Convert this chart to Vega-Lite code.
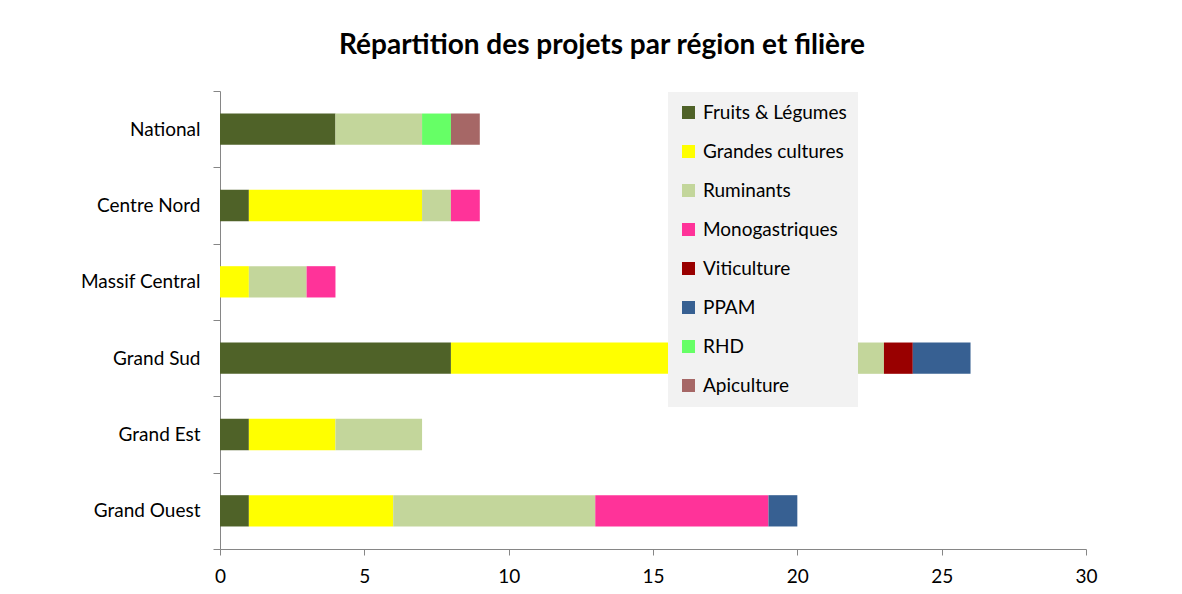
{
  "$schema": "https://vega.github.io/schema/vega-lite/v6.json",
  "width": 866,
  "height": 458,
  "padding": {"left": 80, "top": 32, "right": 20, "bottom": 5},
  "background": "white",
  "config": {"view": {"stroke": null}, "font": "Lato"},
  "title": {"text": "Répartition des projets par région et filière", "fontSize": 28, "fontWeight": "bold", "font": "Lato", "color": "#000000", "anchor": "middle", "frame": "group", "dx": -51, "offset": 22},
  "data": {"values": [
    {"region": "National", "filiere": "Fruits & Légumes", "n": 4},
    {"region": "National", "filiere": "Ruminants", "n": 3},
    {"region": "National", "filiere": "RHD", "n": 1},
    {"region": "National", "filiere": "Apiculture", "n": 1},
    {"region": "Centre Nord", "filiere": "Fruits & Légumes", "n": 1},
    {"region": "Centre Nord", "filiere": "Grandes cultures", "n": 6},
    {"region": "Centre Nord", "filiere": "Ruminants", "n": 1},
    {"region": "Centre Nord", "filiere": "Monogastriques", "n": 1},
    {"region": "Massif Central", "filiere": "Grandes cultures", "n": 1},
    {"region": "Massif Central", "filiere": "Ruminants", "n": 2},
    {"region": "Massif Central", "filiere": "Monogastriques", "n": 1},
    {"region": "Grand Sud", "filiere": "Fruits & Légumes", "n": 8},
    {"region": "Grand Sud", "filiere": "Grandes cultures", "n": 14},
    {"region": "Grand Sud", "filiere": "Ruminants", "n": 1},
    {"region": "Grand Sud", "filiere": "Viticulture", "n": 1},
    {"region": "Grand Sud", "filiere": "PPAM", "n": 2},
    {"region": "Grand Est", "filiere": "Fruits & Légumes", "n": 1},
    {"region": "Grand Est", "filiere": "Grandes cultures", "n": 3},
    {"region": "Grand Est", "filiere": "Ruminants", "n": 3},
    {"region": "Grand Ouest", "filiere": "Fruits & Légumes", "n": 1},
    {"region": "Grand Ouest", "filiere": "Grandes cultures", "n": 5},
    {"region": "Grand Ouest", "filiere": "Ruminants", "n": 7},
    {"region": "Grand Ouest", "filiere": "Monogastriques", "n": 6},
    {"region": "Grand Ouest", "filiere": "PPAM", "n": 1}
  ]},
  "transform": [
    {"calculate": "indexof(['Fruits & Légumes', 'Grandes cultures', 'Ruminants', 'Monogastriques', 'Viticulture', 'PPAM', 'RHD', 'Apiculture'], datum.filiere)", "as": "ordre"}
  ],
  "mark": {"type": "bar", "height": {"band": 0.41}},
  "encoding": {
    "y": {
      "field": "region", "type": "nominal",
      "sort": ["National", "Centre Nord", "Massif Central", "Grand Sud", "Grand Est", "Grand Ouest"],
      "scale": {"paddingInner": 0, "paddingOuter": 0},
      "axis": {"title": null, "tickBand": "extent", "labelFontSize": 19, "labelColor": "#000000", "labelFont": "Lato", "domainColor": "#868686", "tickColor": "#868686", "tickSize": 7, "labelPadding": 13, "minExtent": 140, "maxExtent": 140}
    },
    "x": {
      "field": "n", "type": "quantitative", "stack": "zero",
      "scale": {"domain": [0, 30], "nice": false},
      "axis": {"title": null, "values": [0, 5, 10, 15, 20, 25, 30], "grid": false, "labelFlush": false, "labelFontSize": 19, "labelColor": "#000000", "labelFont": "Lato", "domainColor": "#868686", "tickColor": "#868686", "tickSize": 6, "labelPadding": 12}
    },
    "order": {"field": "ordre", "type": "quantitative", "sort": "ascending"},
    "color": {
      "field": "filiere", "type": "nominal",
      "sort": ["Fruits & Légumes", "Grandes cultures", "Ruminants", "Monogastriques", "Viticulture", "PPAM", "RHD", "Apiculture"],
      "scale": {
        "domain": ["Fruits & Légumes", "Grandes cultures", "Ruminants", "Monogastriques", "Viticulture", "PPAM", "RHD", "Apiculture"],
        "range": ["#4f6228", "#ffff00", "#c3d69b", "#ff3399", "#990000", "#376092", "#66ff66", "#a66766"]
      },
      "legend": {
        "title": null, "orient": "none", "legendX": 448, "legendY": 1,
        "fillColor": "#f2f2f2", "padding": 11,
        "symbolType": "square", "symbolSize": 170, "symbolStrokeWidth": 0,
        "labelFontSize": 19, "labelFont": "Lato", "labelColor": "#000000",
        "rowPadding": 19, "labelOffset": 5, "labelLimit": 300,
        "symbolOpacity": 1
      }
    }
  }
}
